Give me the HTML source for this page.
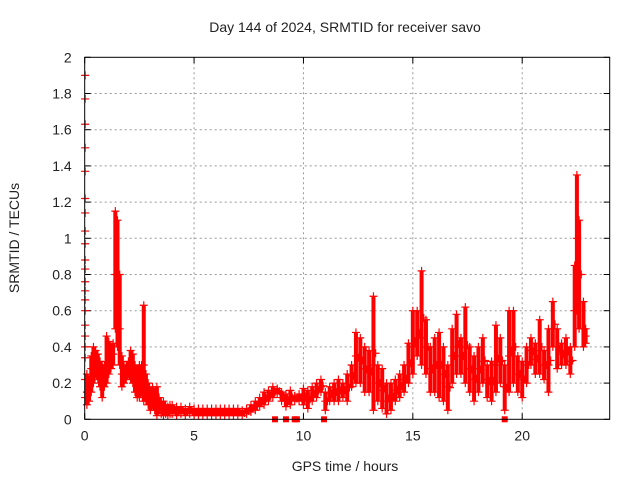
<!DOCTYPE html>
<html><head><meta charset="utf-8"><style>
html,body{margin:0;padding:0;background:#fff}
svg{display:block;font-family:"Liberation Sans",sans-serif}
</style></head><body>
<svg id="chart" width="640" height="480">
<text x="345" y="32" font-size="14" text-anchor="middle" fill="#222">Day 144 of 2024, SRMTID for receiver savo</text>
<text x="345" y="471" font-size="14" text-anchor="middle" fill="#222">GPS time / hours</text>
<text transform="translate(19,238) rotate(-90)" font-size="14" text-anchor="middle" fill="#222">SRMTID / TECUs</text>
<g id="grid"></g>
<g id="axes"></g>
<g id="marks"></g>
<rect x="84.7" y="57.3" width="525" height="362" fill="none" stroke="#000" stroke-width="1"/>
</svg>
<script>
const xTicks=[0,5,10,15,20];
const yTicks=[0,0.2,0.4,0.6,0.8,1,1.2,1.4,1.6,1.8,2];
const yTickLabels=["0","0.2","0.4","0.6","0.8","1","1.2","1.4","1.6","1.8","2"];
const times=[0.1,0.2,0.3,0.4,0.5,0.6,0.7,0.8,0.9,1.0,1.1,1.2,1.3,1.4,1.5,1.6,1.7,1.8,1.9,2.0,2.1,2.2,2.3,2.4,2.5,2.6,2.7,2.8,2.9,3.0,3.1,3.2,3.3,3.4,3.5,3.6,3.7,3.8,3.9,4.0,4.2,4.4,4.6,4.8,5.0,5.2,5.4,5.6,5.8,6.0,6.2,6.4,6.6,6.8,7.0,7.2,7.4,7.6,7.8,8.0,8.2,8.4,8.6,8.8,9.0,9.2,9.4,9.6,9.8,10.0,10.2,10.4,10.6,10.8,11.0,11.2,11.4,11.6,11.8,12.0,12.2,12.4,12.6,12.8,13.0,13.2,13.4,13.6,13.8,14.0,14.2,14.4,14.6,14.8,15.0,15.2,15.4,15.6,15.8,16.0,16.2,16.4,16.6,16.8,17.0,17.2,17.4,17.6,17.8,18.0,18.2,18.4,18.6,18.8,19.0,19.2,19.4,19.6,19.8,20.0,20.2,20.4,20.6,20.8,21.0,21.2,21.4,21.6,21.8,22.0,22.2,22.4,22.5,22.6,22.8,22.9];
const loVals=[0.08,0.1,0.15,0.2,0.25,0.22,0.18,0.12,0.18,0.2,0.25,0.28,0.3,0.5,0.4,0.3,0.18,0.2,0.22,0.25,0.22,0.2,0.15,0.12,0.12,0.15,0.1,0.1,0.08,0.05,0.08,0.05,0.02,0.05,0.03,0.02,0.03,0.02,0.03,0.03,0.02,0.03,0.02,0.03,0.02,0.02,0.02,0.02,0.02,0.02,0.02,0.02,0.02,0.02,0.02,0.02,0.03,0.04,0.05,0.07,0.08,0.1,0.12,0.14,0.1,0.07,0.08,0.1,0.1,0.08,0.06,0.1,0.12,0.15,0.05,0.1,0.1,0.1,0.12,0.1,0.18,0.2,0.2,0.15,0.15,0.05,0.1,0.06,0.03,0.05,0.1,0.12,0.15,0.2,0.25,0.35,0.3,0.25,0.15,0.15,0.12,0.1,0.05,0.2,0.25,0.25,0.2,0.15,0.1,0.15,0.2,0.12,0.1,0.15,0.2,0.05,0.15,0.2,0.15,0.12,0.2,0.3,0.25,0.25,0.22,0.15,0.4,0.28,0.3,0.3,0.25,0.4,0.6,0.5,0.4,0.42];
const midVals=[0.15,0.18,0.28,0.32,0.33,0.3,0.26,0.22,0.25,0.3,0.33,0.33,0.36,0.8,0.75,0.5,0.25,0.25,0.26,0.28,0.3,0.28,0.22,0.2,0.2,0.22,0.3,0.16,0.13,0.1,0.12,0.1,0.1,0.08,0.06,0.06,0.05,0.05,0.05,0.05,0.05,0.05,0.04,0.05,0.04,0.04,0.04,0.04,0.04,0.04,0.04,0.04,0.04,0.04,0.04,0.04,0.04,0.06,0.08,0.1,0.12,0.13,0.15,0.16,0.12,0.1,0.12,0.12,0.12,0.12,0.1,0.14,0.16,0.18,0.1,0.14,0.15,0.16,0.16,0.18,0.24,0.35,0.33,0.28,0.26,0.3,0.2,0.16,0.1,0.12,0.16,0.18,0.22,0.3,0.4,0.45,0.45,0.4,0.28,0.3,0.3,0.25,0.18,0.35,0.4,0.35,0.4,0.28,0.22,0.28,0.32,0.22,0.22,0.3,0.32,0.18,0.35,0.4,0.25,0.22,0.3,0.38,0.33,0.38,0.3,0.3,0.5,0.4,0.36,0.38,0.32,0.6,1.0,0.8,0.5,0.46];
const hiVals=[0.25,0.22,0.35,0.4,0.38,0.36,0.32,0.3,0.3,0.46,0.43,0.4,0.42,1.15,1.1,0.8,0.35,0.3,0.3,0.32,0.38,0.36,0.3,0.28,0.3,0.3,0.63,0.25,0.2,0.16,0.18,0.15,0.18,0.12,0.1,0.1,0.08,0.07,0.08,0.08,0.07,0.07,0.06,0.07,0.06,0.06,0.06,0.06,0.06,0.06,0.06,0.06,0.06,0.06,0.06,0.05,0.06,0.08,0.1,0.12,0.15,0.16,0.18,0.17,0.15,0.14,0.16,0.13,0.14,0.17,0.16,0.18,0.2,0.22,0.15,0.18,0.2,0.22,0.2,0.25,0.3,0.48,0.45,0.4,0.38,0.68,0.3,0.28,0.2,0.2,0.22,0.25,0.3,0.42,0.6,0.6,0.82,0.55,0.4,0.45,0.48,0.4,0.3,0.5,0.58,0.45,0.62,0.4,0.35,0.4,0.45,0.3,0.32,0.52,0.45,0.3,0.6,0.6,0.35,0.32,0.4,0.45,0.42,0.55,0.38,0.5,0.65,0.5,0.42,0.45,0.4,0.85,1.35,1.1,0.65,0.5];
const spikeVals=[1.9,1.77,1.63,1.5,1.37,1.22,1.14,1.04,0.97,0.88,0.83,0.76,0.71,0.66,0.6,0.52,0.46,0.4,0.34,0.22,0.12];
const zeroTimes=[8.7,9.2,9.6,9.7,10.94,19.2];

const X0=84.7,X1=609.7,Y0=419.3,Y1=57.3;
const sx=t=>X0+(t/24)*(X1-X0);
const sy=v=>Y0-(v/2)*(Y0-Y1);
const NS="http://www.w3.org/2000/svg";
const grid=document.getElementById('grid'),axes=document.getElementById('axes'),marks=document.getElementById('marks');
function mk(tag,attrs,parent){const e=document.createElementNS(NS,tag);for(const k in attrs)e.setAttribute(k,attrs[k]);parent.appendChild(e);return e;}
xTicks.forEach(t=>{
  const x=sx(t);
  if(t>0){const g=mk('line',{x1:x,x2:x,y1:Y0,y2:Y1,stroke:'#999','stroke-dasharray':'2,3'},grid);
  
  }
  const l=mk('text',{x:x,y:Y0+21,'font-size':14,'text-anchor':'middle',fill:'#222'},axes);l.textContent=t;
  
  
  mk('line',{x1:x,x2:x,y1:Y0,y2:Y0-6,stroke:'#000'},axes);
  mk('line',{x1:x,x2:x,y1:Y1,y2:Y1+6,stroke:'#000'},axes);
});
yTicks.forEach((v,i)=>{
  const y=sy(v);
  if(v>0&&v<2){const g=mk('line',{x1:X0,x2:X1,y1:y,y2:y,stroke:'#999','stroke-dasharray':'2,3'},grid);
  
  }
  const l=mk('text',{x:X0-13,y:y+5,'font-size':14,'text-anchor':'end',fill:'#222'},axes);l.textContent=yTickLabels[i];
  
  
  mk('line',{x1:X0,x2:X0+6,y1:y,y2:y,stroke:'#000'},axes);
  mk('line',{x1:X1,x2:X1-6,y1:y,y2:y,stroke:'#000'},axes);
});
function cross(t,v){
  const x=sx(t),y=sy(v);
  const p=mk('path',{d:`M${x-4} ${y}h8M${x} ${y-4}v8`,stroke:'#f00','stroke-width':1.2,fill:'none'},marks);
  
  
}
times.forEach((t,i)=>{
  const r=mk('line',{x1:sx(t),x2:sx(t),y1:sy(loVals[i]),y2:sy(hiVals[i]),stroke:'#f00','stroke-width':4},marks);
  
  
  cross(t,loVals[i]);cross(t,midVals[i]);cross(t,hiVals[i]);
  if(i+1<times.length&&times[i+1]-t>0.15){cross(t+0.1,(loVals[i]+hiVals[i])/2);}
});
spikeVals.forEach(v=>cross(0.02,v));
zeroTimes.forEach(t=>{
  const r=mk('rect',{x:sx(t)-3,y:Y0-3,width:6,height:6,fill:'#f00'},marks);
  
  
});
</script>
</body></html>
